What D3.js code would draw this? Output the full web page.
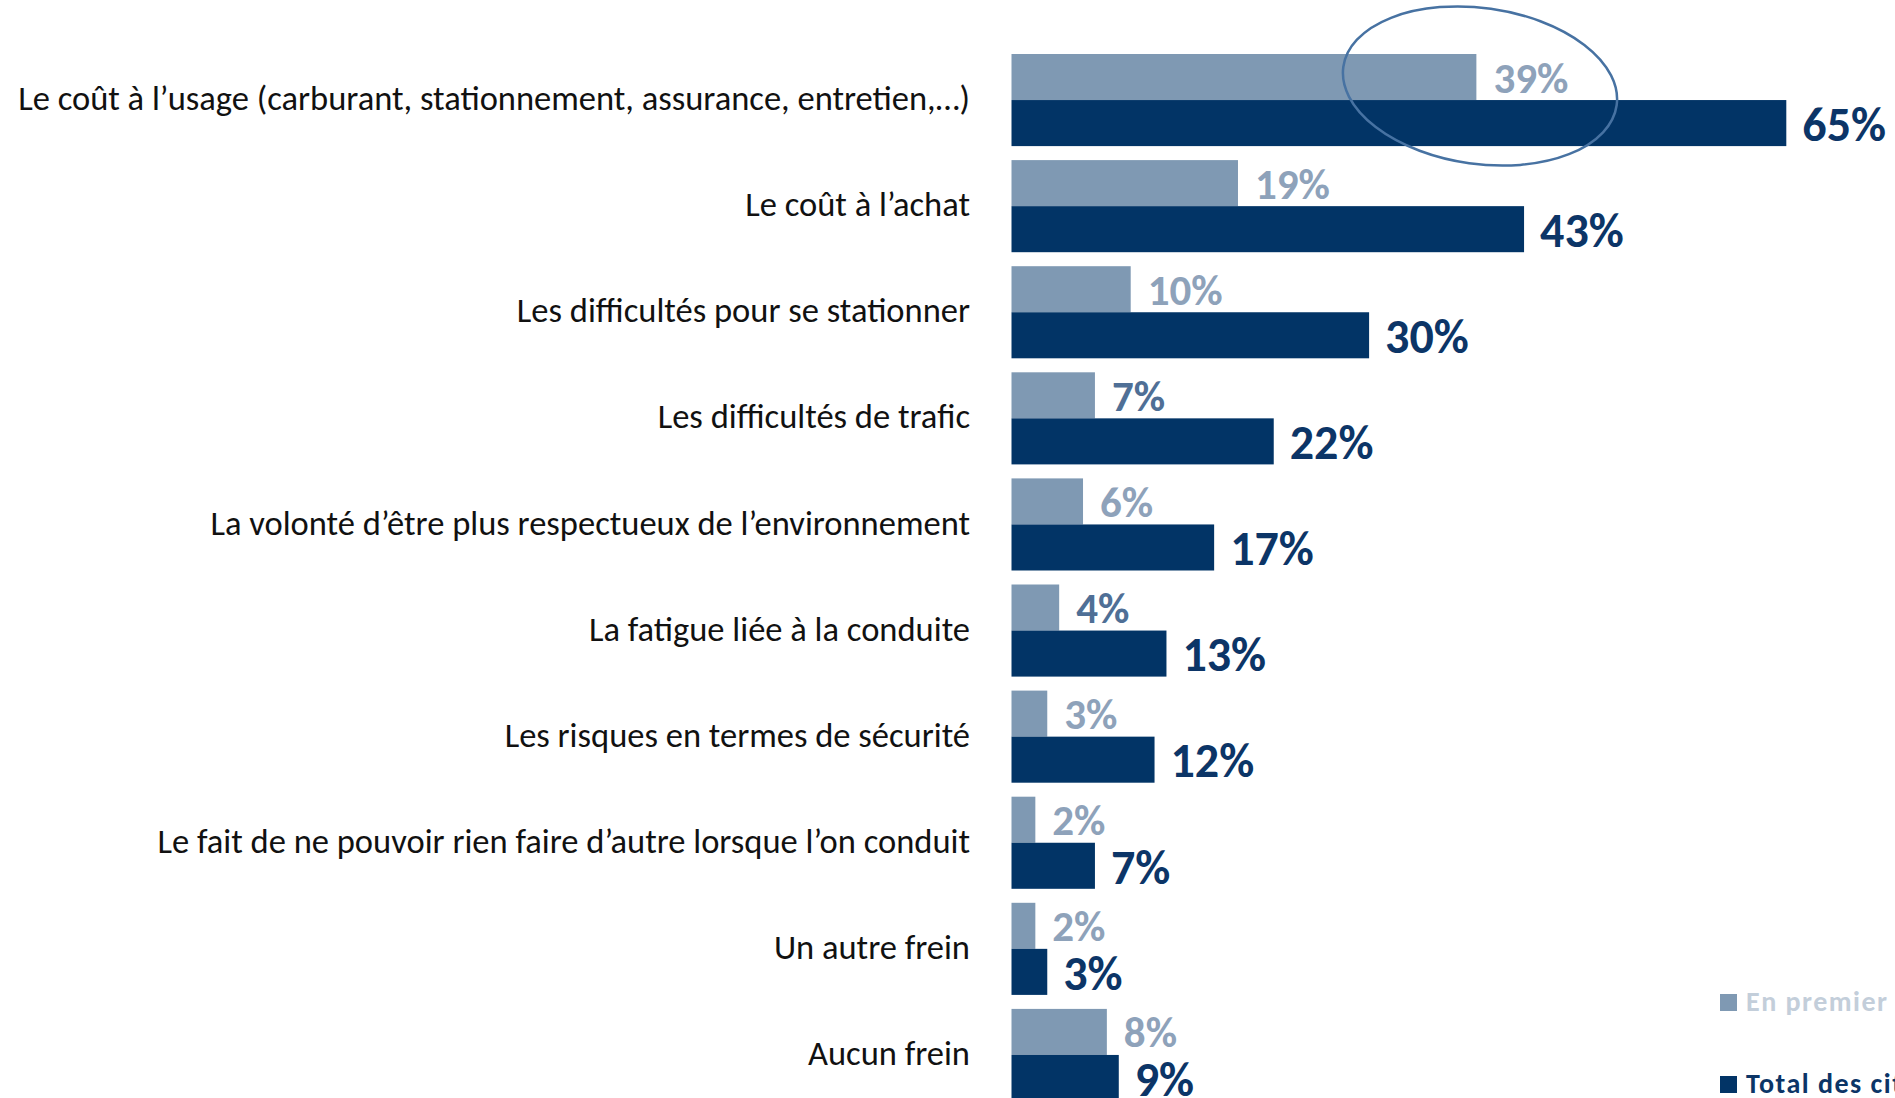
<!DOCTYPE html>
<html>
<head>
<meta charset="utf-8">
<script src="https://cdn.jsdelivr.net/npm/d3@7"></script>
<style>
  html, body { margin: 0; padding: 0; background: #fff; overflow: hidden; }
  svg { display: block; }
</style>
</head>
<body>
<div id="chart"></div>
<script>
const W = 1895, H = 1098;

// data
const categories = [
  "Le coût à l’usage (carburant, stationnement, assurance, entretien,…)",
  "Le coût à l’achat",
  "Les difficultés pour se stationner",
  "Les difficultés de trafic",
  "La volonté d’être plus respectueux de l’environnement",
  "La fatigue liée à la conduite",
  "Les risques en termes de sécurité",
  "Le fait de ne pouvoir rien faire d’autre lorsque l’on conduit",
  "Un autre frein",
  "Aucun frein"
];
const enPremier = [39, 19, 10, 7, 6, 4, 3, 2, 2, 8];
const totalCitations = [65, 43, 30, 22, 17, 13, 12, 7, 3, 9];
const seriesNames = ["En premier", "Total des citations"];

const lightColor = "#7f99b3";
const darkColor = "#023466";
const font = "Carlito, Calibri, Lato, sans-serif";

const x = d3.scaleLinear().domain([0, 100]).range([1011.5, 1011.5 + 1192]);
const step = 106.1, gap = 14;
const y = d3.scaleBand().domain(d3.range(categories.length))
  .range([54, 54 + step * categories.length - gap])
  .paddingInner(gap / step).paddingOuter(0).align(0);
const sub = d3.scaleBand().domain([0, 1]).range([0, y.bandwidth()]);

const svg = d3.select("#chart").append("svg")
  .attr("width", W).attr("height", H)
  .attr("viewBox", [0, 0, W, H]);

const rows = svg.append("g").selectAll("g")
  .data(d3.range(categories.length))
  .join("g")
  .attr("transform", i => `translate(0,${y(i)})`);

// category labels
rows.append("text")
  .attr("x", 970)
  .attr("y", y.bandwidth() / 2 - 2)
  .attr("dy", "0.35em")
  .attr("text-anchor", "end")
  .attr("font-family", font)
  .attr("font-size", 34.5)
  .attr("fill", "#111")
  .text(i => categories[i]);

// light bars
rows.append("rect")
  .attr("x", x(0))
  .attr("y", sub(0))
  .attr("width", i => x(enPremier[i]) - x(0))
  .attr("height", sub.bandwidth())
  .attr("fill", lightColor);

// dark bars
rows.append("rect")
  .attr("x", x(0))
  .attr("y", sub(1))
  .attr("width", i => x(totalCitations[i]) - x(0))
  .attr("height", sub.bandwidth())
  .attr("fill", darkColor);

// value labels
const strong = v => v === 7 || v === 4;
rows.append("text")
  .attr("x", i => x(enPremier[i]) + 17)
  .attr("y", sub(0) + sub.bandwidth() / 2)
  .attr("dy", "0.36em")
  .attr("font-family", font)
  .attr("font-size", 43)
  .attr("font-weight", i => strong(enPremier[i]) ? 800 : 600)
  .attr("fill", i => strong(enPremier[i]) ? "#4f6f96" : "#8ea2ba")
  .text(i => enPremier[i] + "%");

rows.append("text")
  .attr("x", i => x(totalCitations[i]) + 16)
  .attr("y", sub(1) + sub.bandwidth() / 2)
  .attr("dy", "0.37em")
  .attr("font-family", font)
  .attr("font-size", 48)
  .attr("font-weight", 800)
  .attr("fill", "#0c3567")
  .text(i => totalCitations[i] + "%");

// highlight ellipse around the first value
svg.append("ellipse")
  .attr("cx", 1480).attr("cy", 86)
  .attr("rx", 138).attr("ry", 78)
  .attr("transform", "rotate(8,1480,86)")
  .attr("fill", "none")
  .attr("stroke", "#4772a2")
  .attr("stroke-width", 2.5);

// legend (cut by the right edge, as in the picture)
const legend = svg.append("g").selectAll("g")
  .data(seriesNames)
  .join("g")
  .attr("transform", (d, i) => `translate(1720,${994 + i * 82})`);

legend.append("rect")
  .attr("width", 17).attr("height", 17)
  .attr("fill", (d, i) => i === 0 ? lightColor : darkColor);

legend.append("text")
  .attr("x", 26).attr("y", 17)
  .attr("font-family", font)
  .attr("font-size", 28)
  .attr("font-weight", 700)
  .attr("letter-spacing", 1.5)
  .attr("fill", (d, i) => i === 0 ? "#c3ceda" : "#0c3567")
  .text(d => d);
</script>
</body>
</html>
